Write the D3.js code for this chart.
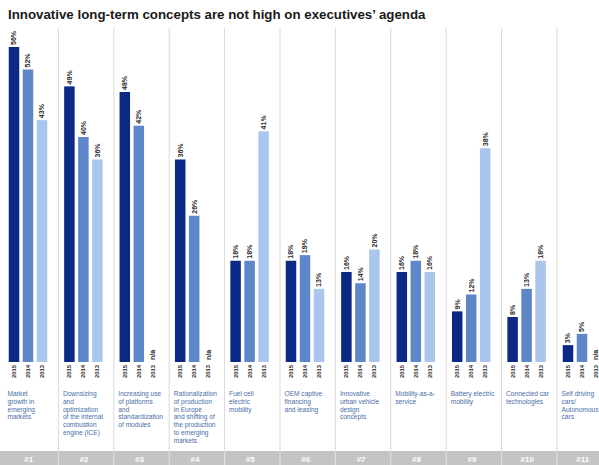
<!DOCTYPE html>
<html><head><meta charset="utf-8">
<script src="https://cdn.jsdelivr.net/npm/d3@7/dist/d3.min.js"></script>
<style>html,body{margin:0;padding:0;background:#fff;}svg{display:block;font-family:"Liberation Sans",Arial,sans-serif;}</style>
</head><body>
<svg id="c" width="599" height="465"></svg>
<script>
const title = "Innovative long-term concepts are not high on executives’ agenda";
const categories = ["#1","#2","#3","#4","#5","#6","#7","#8","#9","#10","#11"];
const years = ["2015","2014","2013"];
const v2015 = [56,49,48,36,18,18,16,16,9,8,3];
const v2014 = [52,40,42,26,18,19,14,18,12,13,5];
const v2013 = [43,36,null,null,41,13,20,16,38,18,null];
const descriptions = [
  ["Market","growth in","emerging","markets"],
  ["Downsizing","and","optimization","of the internal","combustion","engine (ICE)"],
  ["Increasing use","of platforms","and","standardization","of modules"],
  ["Rationalization","of production","in Europe","and shifting of","the production","to emerging","markets"],
  ["Fuel cell","electric","mobility"],
  ["OEM captive","financing","and leasing"],
  ["Innovative","urban vehicle","design","concepts"],
  ["Mobility-as-a-","service"],
  ["Battery electric","mobility"],
  ["Connected car","technologies"],
  ["Self driving","cars/","Autonomous","cars"]
];
const colors = {"2015":"#0b2a86","2014":"#5d87c9","2013":"#abc6ec"};

const svg = d3.select("#c");
const baseY = 362;
const x = d3.scaleBand().domain(categories).range([3, 3 + 55.4*11]).padding(0);
const xi = d3.scaleBand().domain(years).range([4, 46]).paddingInner(0.25).paddingOuter(0.125);
const y = d3.scaleLinear().domain([0, 56]).range([baseY, baseY - 315]);

svg.append("text").attr("x", 8).attr("y", 19).attr("font-size", 13.3).attr("font-weight", "bold")
  .attr("fill", "#1a1a1a").text(title);

// dividers
svg.selectAll("line.div").data(categories.slice(1)).enter().append("line")
  .attr("x1", d => x(d)).attr("x2", d => x(d)).attr("y1", 28).attr("y2", 451)
  .attr("stroke", "#d9d9d9").attr("stroke-width", 1);

// bottom band
svg.append("rect").attr("x", 0).attr("y", 451).attr("width", 599).attr("height", 14).attr("fill", "#c4c4c4");
svg.selectAll("line.bdiv").data(categories.slice(1)).enter().append("line")
  .attr("x1", d => x(d)).attr("x2", d => x(d)).attr("y1", 451).attr("y2", 465)
  .attr("stroke", "#e4e4e4").attr("stroke-width", 1);
svg.selectAll("text.num").data(categories).enter().append("text")
  .attr("x", d => x(d) + x.bandwidth()/2 - 2).attr("y", 461.5).attr("text-anchor", "middle")
  .attr("font-size", 8).attr("font-weight", "bold").attr("fill", "#fff").text(d => d);

const rows = categories.map((c, i) => ({c, vals: [v2015[i], v2014[i], v2013[i]]}));
const g = svg.selectAll("g.grp").data(rows).enter().append("g")
  .attr("transform", d => `translate(${x(d.c)},0)`);

g.each(function(d) {
  const gg = d3.select(this);
  years.forEach((yr, k) => {
    const v = d.vals[k];
    const bx = xi(yr);
    const cx = bx + xi.bandwidth()/2;
    if (v != null) {
      gg.append("rect").attr("x", bx).attr("y", y(v)).attr("width", xi.bandwidth())
        .attr("height", baseY - y(v)).attr("fill", colors[yr]);
      gg.append("text").attr("transform", `translate(${cx + 2.4},${y(v) - 2}) rotate(-90)`)
        .attr("font-size", 7).attr("font-weight", "bold").attr("fill", "#2a2a2a").text(v + "%");
    } else {
      gg.append("text").attr("transform", `translate(${cx + 2.4},${baseY - 2}) rotate(-90)`)
        .attr("font-size", 7).attr("font-weight", "bold").attr("fill", "#2a2a2a").text("n/a");
    }
    gg.append("text").attr("transform", `translate(${cx + 2},${baseY + 3}) rotate(-90)`)
      .attr("text-anchor", "end").attr("font-size", 5.8).attr("font-weight", "bold")
      .attr("fill", "#333").text(yr);
  });
});

g.each(function(d, i) {
  const t = d3.select(this).append("text").attr("x", 4.5).attr("y", 396)
    .attr("font-size", 6.6).attr("fill", "#4a6ea8");
  descriptions[i].forEach((ln, j) => {
    t.append("tspan").attr("x", 4.5).attr("y", 396 + j*7.8).text(ln);
  });
});
</script>
</body></html>
